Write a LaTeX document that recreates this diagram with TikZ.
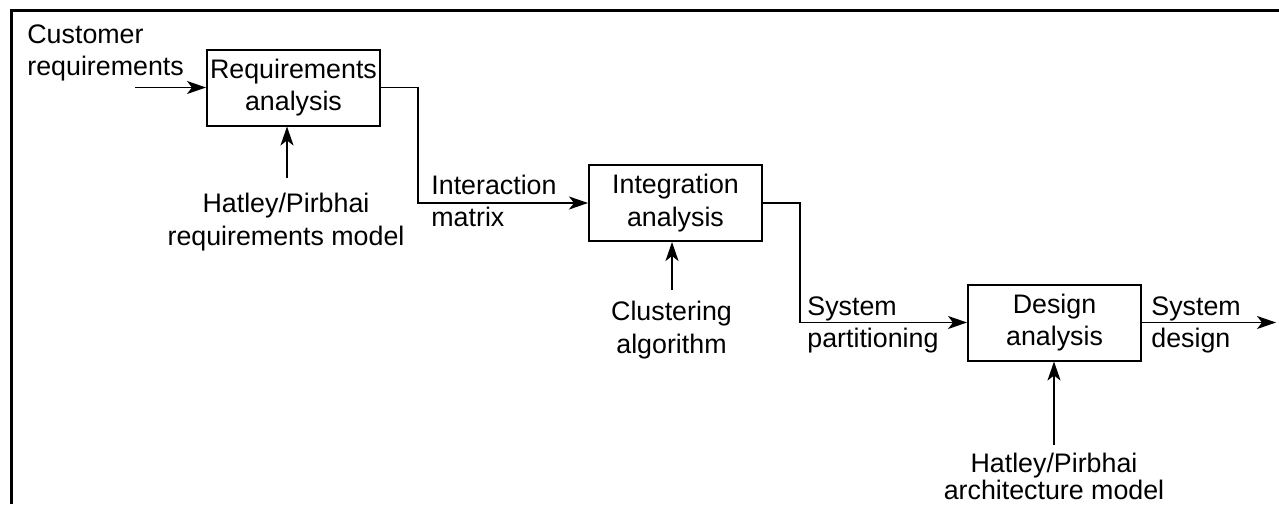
\documentclass[tikz,border=0pt]{standalone}
\usepackage{fontspec}
\setmainfont{Liberation Sans}
\usetikzlibrary{arrows.meta,calc}
\begin{document}
\begin{tikzpicture}[x=0.5pt,y=-0.5pt,
  every node/.style={font=\fontsize{13.4}{16.25}\selectfont, inner sep=0pt},
  procbox/.style={draw, line width=1pt, minimum width=86.5pt, minimum height=38pt, align=center},
  lbl/.style={align=center},
  lbll/.style={align=left, anchor=west},
  conn/.style={line width=0.95pt, -{Stealth[length=9.5pt,width=6.5pt,inset=2.5pt]}},
  frameline/.style={line width=1.5pt}]
\useasboundingbox (0,0) rectangle (1279,504);
% frame
\coordinate (f1) at (11,504);
\coordinate (f2) at (11,10);
\coordinate (f3) at (1279,10);
\draw[frameline] (f1) -- (f2) -- (f3);
% boxes
\node[procbox] (ra) at (293.5,87.5) {Requirements\\analysis};
\node[procbox] (ia) at (675.5,203) {Integration\\analysis};
\node[procbox] (da) at (1054.5,322.5) {Design\\analysis};
% labels
\node[lbll] (creq) at (27,53) {Customer\\requirements};
\node[lbl] (hreq) at (286,222) {Hatley/Pirbhai\\requirements model};
\node[lbll] (imat) at (431,201) {Interaction\\matrix};
\node[lbl] (clus) at (671.5,330) {Clustering\\algorithm};
\node[lbll] (spart) at (807,325) {System\\partitioning};
\node[lbll] (sdes) at (1151,325) {System\\design};
\node[lbl, font=\fontsize{13.4}{13.5}\selectfont] (arch) at (1054,476) {Hatley/Pirbhai\\architecture model};
% coordinates
\coordinate (cin) at (135,87.5);
\coordinate (k1) at (418,150);
\coordinate (k2) at (800,260);
\coordinate (cout) at (1276,322.5);
\coordinate (h1) at (287,178);
\coordinate (c1) at (672,290);
\coordinate (a1) at (1054,445);
% connectors
\draw[conn] (cin) -- (ra.west);
\draw[conn] (ra.east) -| (k1) |- (ia.west);
\draw[conn] (ia.east) -| (k2) |- (da.west);
\draw[conn] (da.east) -- (cout);
\draw[conn] (h1) -- (h1 |- ra.south);
\draw[conn] (c1) -- (c1 |- ia.south);
\draw[conn] (a1) -- (a1 |- da.south);
\end{tikzpicture}
\end{document}
